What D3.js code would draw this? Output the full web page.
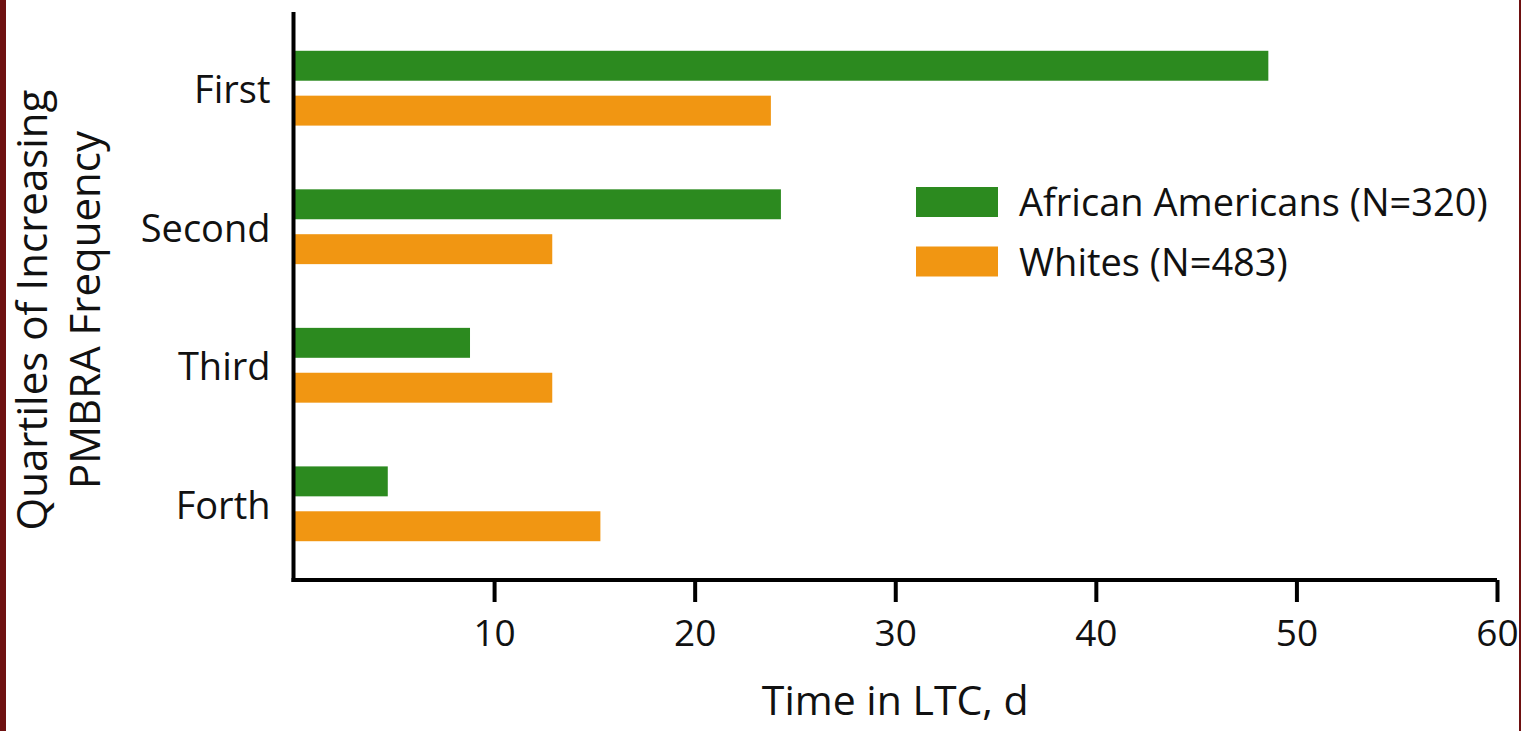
<!DOCTYPE html>
<html>
<head>
<meta charset="utf-8">
<script src="https://cdn.jsdelivr.net/npm/d3@7"></script>
<style>
  html, body { margin: 0; padding: 0; background: #fff; }
  #chart { width: 1521px; height: 731px; }
  text { font-family: "Open Sans", "Noto Sans", sans-serif; fill: #111; }
</style>
</head>
<body>
<div id="chart"></div>
<script>
// quartile categories and series
var quartiles = ["First", "Second", "Third", "Forth"];
var seriesNames = ["African Americans (N=320)", "Whites (N=483)"];
var africanAmericans = [48.6, 24.3, 8.8, 4.7];
var whites = [23.8, 12.9, 12.9, 15.3];
var xTicks = [10, 20, 30, 40, 50, 60];
var colors = ["#2c8a1f", "#f19612"];

var data = quartiles.map(function(q, i) {
    return { quartile: q, values: [africanAmericans[i], whites[i]] };
});

var W = 1521, H = 731;
var svg = d3.select("#chart")
    .append("svg")
    .attr("width", W)
    .attr("height", H);

// dark red frame edges
svg.append("rect").attr("x", 0).attr("y", 0).attr("width", 6).attr("height", H).style("fill", "#6e1111");
svg.append("rect").attr("x", 1519).attr("y", 0).attr("width", 2).attr("height", H).style("fill", "#6e1111");

var plotLeft = 293.5, plotRight = 1497, plotTop = 12, plotBottom = 580;

var x = d3.scaleLinear()
    .domain([0, 60])
    .range([plotLeft, plotRight]);

var y = d3.scaleBand()
    .domain(quartiles)
    .range([plotTop, plotBottom])
    .paddingInner(0.46)
    .paddingOuter(0.28);

var ySub = d3.scaleBand()
    .domain([0, 1])
    .range([0, y.bandwidth()])
    .paddingInner(0.333);

// bars
var groups = svg.selectAll("g.group")
    .data(data)
    .enter().append("g")
    .attr("class", "group")
    .attr("transform", function(d) { return "translate(0," + y(d.quartile) + ")"; });

groups.selectAll("rect")
    .data(function(d) { return d.values; })
    .enter().append("rect")
    .attr("x", x(0))
    .attr("y", function(d, i) { return ySub(i); })
    .attr("width", function(d) { return x(d) - x(0); })
    .attr("height", ySub.bandwidth())
    .style("fill", function(d, i) { return colors[i]; });

// x axis
var xAxis = d3.axisBottom(x)
    .tickValues(xTicks)
    .tickSize(22)
    .tickSizeOuter(0)
    .tickPadding(18);

var gx = svg.append("g")
    .attr("transform", "translate(0," + plotBottom + ")")
    .call(xAxis);
gx.select(".domain").attr("d", "M" + (plotLeft - 2) + ",0H" + plotRight).style("stroke", "#000").style("stroke-width", 4);
gx.selectAll(".tick line").style("stroke", "#000").style("stroke-width", 4);
gx.selectAll(".tick text").style("font-size", "37px").style("fill", "#111").style("font-family", "'Open Sans', sans-serif");

// y axis
var yAxis = d3.axisLeft(y)
    .tickSize(0)
    .tickSizeOuter(0)
    .tickPadding(23);

var gy = svg.append("g")
    .attr("transform", "translate(" + plotLeft + ",0)")
    .call(yAxis);
gy.select(".domain").attr("d", "M0," + plotTop + "V" + (plotBottom + 2)).style("stroke", "#000").style("stroke-width", 4);
gy.selectAll(".tick text").attr("dy", "0.4em").style("font-size", "38px").style("fill", "#111").style("font-family", "'Open Sans', sans-serif");

// axis titles
svg.append("text")
    .attr("x", (plotLeft + plotRight) / 2)
    .attr("y", 715)
    .style("text-anchor", "middle")
    .style("font-size", "41px")
    .text("Time in LTC, d");

var yTitle = svg.append("text")
    .attr("transform", "translate(0,310) rotate(-90)")
    .style("text-anchor", "middle")
    .style("font-size", "42px");
yTitle.append("tspan").attr("x", 0).attr("y", 47).text("Quartiles of Increasing");
yTitle.append("tspan").attr("x", 0).attr("y", 100).text("PMBRA Frequency");

// legend
var legend = svg.selectAll("g.legend")
    .data(seriesNames)
    .enter().append("g")
    .attr("class", "legend")
    .attr("transform", function(d, i) { return "translate(916," + (187 + i * 59.5) + ")"; });

legend.append("rect")
    .attr("width", 82)
    .attr("height", 30)
    .style("fill", function(d, i) { return colors[i]; });

legend.append("text")
    .attr("x", 103)
    .attr("y", 15)
    .attr("dy", "0.38em")
    .style("font-size", "38px")
    .text(function(d) { return d; });
</script>
</body>
</html>
